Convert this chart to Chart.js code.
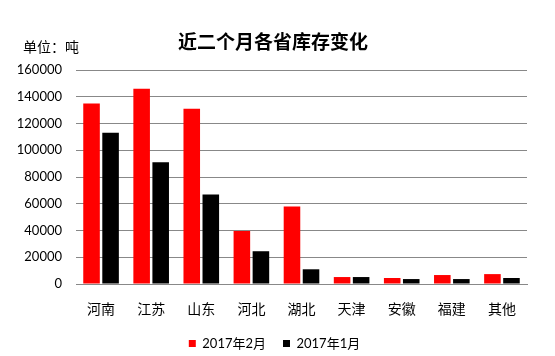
<!DOCTYPE html>
<html><head><meta charset="utf-8">
<script src="https://cdn.jsdelivr.net/npm/chart.js@4"></script>
<style>html,body{margin:0;padding:0;background:#fff}#wrap{width:555px;height:356px;position:relative}</style>
</head><body><div id="wrap"><canvas id="c" width="555" height="356"></canvas></div>
<script>
const categories = ['河南','江苏','山东','河北','湖北','天津','安徽','福建','其他'];
const feb2017 = [135000,146000,131000,39700,58000,5200,4500,6700,7400];
const jan2017 = [113000,91000,67000,24500,11000,5200,3700,3700,4500];
const seriesNames = ['2017年2月','2017年1月'];
const titleText = '近二个月各省库存变化';
const unitText = '单位：吨';

const textPlugin = {
  id:'texts',
  afterLayout(chart){
    if (chart.legend) chart.legend.left += 22;
  },
  afterDraw(chart){
    const ctx = chart.ctx;
    ctx.save();
    ctx.fillStyle = '#000';
    ctx.textBaseline = 'middle';
    ctx.textAlign = 'center';
    ctx.font = 'bold 19px "Noto Sans CJK SC"';
    ctx.fillText(titleText, 273, 42);
    ctx.textAlign = 'left';
    ctx.font = '14px "Noto Sans CJK SC"';
    ctx.fillText(unitText, 23, 47);
    ctx.restore();
  }
};

new Chart(document.getElementById('c'), {
  type:'bar',
  data:{
    labels:categories,
    datasets:[
      {label:seriesNames[0], data:feb2017, backgroundColor:'#ff0000', barPercentage:0.87, categoryPercentage:0.76},
      {label:seriesNames[1], data:jan2017, backgroundColor:'#000000', barPercentage:0.87, categoryPercentage:0.76}
    ]
  },
  options:{
    responsive:false, animation:false,
    layout:{padding:{left:0,right:28,top:70,bottom:-4}},
    plugins:{
      title:{display:false},
      tooltip:{enabled:false},
      legend:{position:'bottom', labels:{boxWidth:7, boxHeight:7, color:'#000', padding:17, font:{family:'Lato, "Noto Sans CJK SC"', size:13}}}
    },
    scales:{
      x:{
        grid:{display:false, drawTicks:false},
        border:{display:true,color:'#888',width:1},
        ticks:{color:'#000', padding:16, font:{family:'"Noto Sans CJK SC"', size:14}},
        afterFit(s){ s.height = 36; }
      },
      y:{
        min:0,max:160000,
        ticks:{stepSize:20000, color:'#000', padding:14, font:{family:'Lato', size:13}, callback:(v)=>String(v)},
        grid:{color:'#888', drawTicks:false, lineWidth:1},
        border:{display:false},
        afterFit(s){ s.width = 76; }
      }
    }
  },
  plugins:[textPlugin]
});
</script></body></html>
